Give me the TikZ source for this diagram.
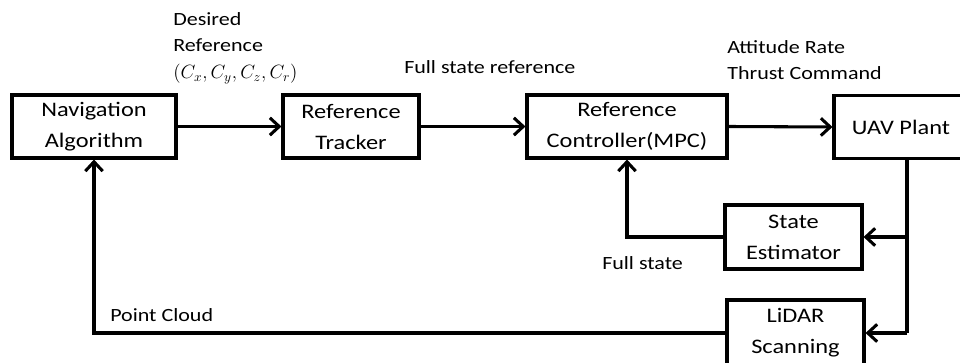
\documentclass[tikz,border=0pt]{standalone}
\usepackage{fontspec}
\setmainfont[FakeStretch=1.18]{Carlito}
\usetikzlibrary{arrows.meta,calc}
\begin{document}
\begin{tikzpicture}[x=0.75pt,y=-0.75pt,
  blk/.style={draw,line width=2.3pt,rectangle,inner sep=0pt,align=center,
    font=\fontsize{15.5pt}{23.25pt}\selectfont},
  lbl/.style={inner sep=0pt,align=left,font=\fontsize{14pt}{20pt}\selectfont},
  wire/.style={line width=2.3pt},
  arr/.style={wire,-{Straight Barb[length=7pt,width=13pt,line width=2.3pt]}}]
\useasboundingbox (0,0) rectangle (960,363);
\clip (0,0) rectangle (960,363);
\node[blk,minimum width=164*0.75pt,minimum height=63*0.75pt] (nav) at (94,126.5) {Navigation\\Algorithm};
\node[blk,minimum width=136*0.75pt,minimum height=63*0.75pt] (trk) at (351,126.5) {Reference\\Tracker};
\node[blk,minimum width=200*0.75pt,minimum height=63*0.75pt] (ctl) at (627,126.5) {Reference\\Controller(MPC)};
\node[blk,minimum width=134*0.75pt,minimum height=63*0.75pt] (uav) at (901,127) {UAV Plant};
\node[blk,minimum width=137*0.75pt,minimum height=64*0.75pt] (est) at (793.5,237) {State\\Estimator};
\node[blk,minimum width=137*0.75pt,minimum height=66*0.75pt] (lid) at (795.5,333) {LiDAR\\Scanning};
\coordinate (split) at (907,333);
\node[lbl,anchor=north west] (l1) at (173,12) {Desired\\Reference\\$(C_x,C_y,C_z,C_r)$};
\node[lbl,anchor=base west] (l2) at (404,74) {Full state reference};
\node[lbl,anchor=north west] (l3) at (727,40) {Attitude Rate\\Thrust Command};
\node[lbl,anchor=base west] (l4) at (602,270) {Full state};
\node[lbl,anchor=base west] (l5) at (110,321) {Point Cloud};
\draw[arr] (nav.east) -- (trk.west);
\draw[arr] (trk.east) -- (ctl.west);
\draw[arr] (ctl.east) -- (uav.west);
\draw[wire] (uav.south -| split) -- (split);
\draw[arr] (split) -- (lid.east);
\draw[arr] (split |- est.east) -- (est.east);
\draw[arr] (est.west) -| (ctl.south);
\draw[arr] (lid.west) -| (nav.south);
\end{tikzpicture}
\end{document}
